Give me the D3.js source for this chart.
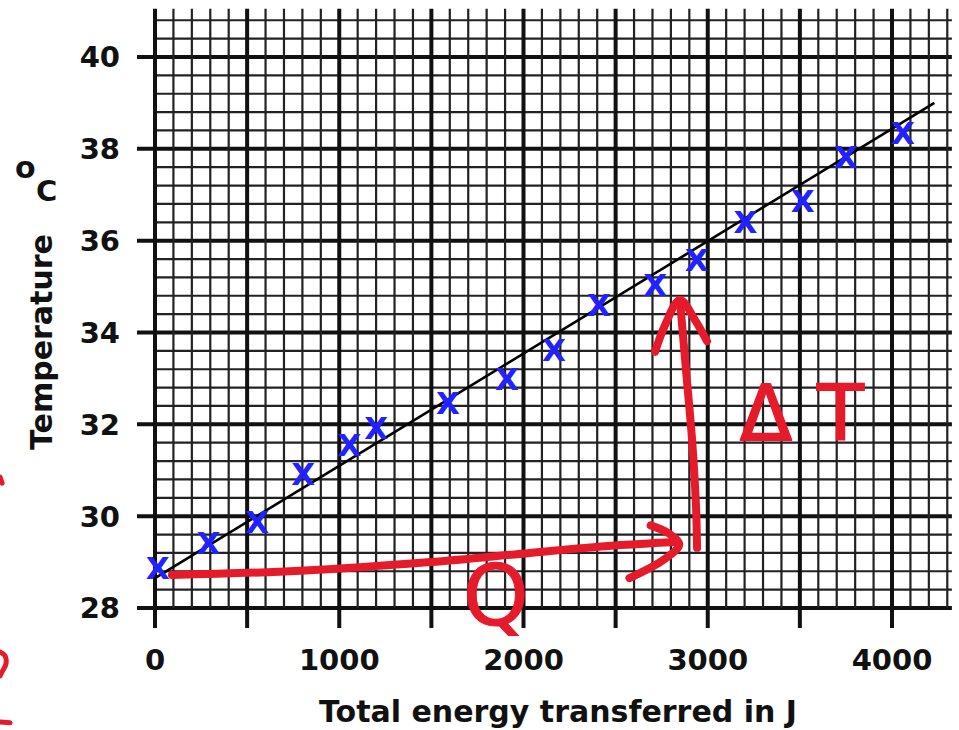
<!DOCTYPE html>
<html lang="en">
<head>
  <meta charset="UTF-8">
  <script src="https://d3js.org/d3.v7.min.js"></script>
  <style>
    body { margin: 0; background: #fff; }
    text { font-family: "DejaVu Sans", Verdana, sans-serif; }
  </style>
</head>
<body>
  <script>
    // measured points (energy in J, temperature in oC)
    const energy = [15, 290, 555, 805, 1055, 1200, 1590, 1910, 2165, 2410, 2715, 2940, 3205, 3515, 3750, 4060];
    const temperature = [28.87, 29.42, 29.88, 30.92, 31.55, 31.92, 32.47, 33.0, 33.62, 34.6, 35.04, 35.58, 36.4, 36.86, 37.83, 38.35];

    // line of best fit
    const fitEnergy = [0, 4230];
    const fitTemp = [28.65, 39.0];

    const xTicks = [0, 1000, 2000, 3000, 4000];
    const yTicks = [28, 30, 32, 34, 36, 38, 40];

    // red hand annotations, in data units
    const qShaft = [[92, 28.72], [787, 28.81], [1493, 29.0], [2035, 29.2], [2524, 29.37], [2828, 29.44]];
    const qHead = [[2690, 29.8], [2790, 29.62], [2845, 29.38], [2760, 29.05], [2575, 28.65]];
    const dtShaft = [[2942, 29.31], [2936, 30.24], [2915, 31.66], [2882, 33.18], [2849, 34.71]];
    const dtHead = [[2714, 33.58], [2768, 34.16], [2849, 34.71], [2931, 34.27], [2996, 33.81]];
    const edgeMarks = [
      [[-841, 30.85], [-830, 30.72]],
      [[-841, 27.04], [-814, 26.96], [-809, 26.78], [-830, 26.61], [-841, 26.52]],
      [[-841, 25.52], [-787, 25.5]]
    ];

    const width = 959, height = 730;

    const svg = d3.select("body").append("svg")
      .attr("width", width)
      .attr("height", height);

    const x = d3.scaleLinear().domain([0, 4000]).range([155, 892]);
    const y = d3.scaleLinear().domain([28, 40]).range([608, 57]);

    // graph paper grid
    const xMinor = d3.range(0, 4301, 100);
    const yMinor = d3.range(28, 40.81, 0.4).map(v => +v.toFixed(1));
    const isMajorX = v => v % 500 === 0;
    const isMajorY = v => Math.abs(v % 2) < 1e-6;

    const grid = svg.append("g");
    grid.selectAll("line.h")
      .data(yMinor)
      .join("line")
      .attr("x1", d => isMajorY(d) ? x(0) - 18 : x(0))
      .attr("x2", x(4325))
      .attr("y1", d => y(d))
      .attr("y2", d => y(d))
      .attr("stroke", d => isMajorY(d) ? "#111" : "#222")
      .attr("stroke-width", d => isMajorY(d) ? 4 : 2.2);

    grid.selectAll("line.v")
      .data(xMinor)
      .join("line")
      .attr("x1", d => x(d))
      .attr("x2", d => x(d))
      .attr("y1", d => isMajorX(d) ? y(28) + 20 : y(28))
      .attr("y2", y(41.05))
      .attr("stroke", d => isMajorX(d) ? "#111" : "#222")
      .attr("stroke-width", d => isMajorX(d) ? 4 : 2.2);

    // tick labels
    svg.append("g").selectAll("text")
      .data(xTicks)
      .join("text")
      .attr("x", d => x(d))
      .attr("y", 670)
      .attr("text-anchor", "middle")
      .attr("font-size", 29)
      .attr("font-weight", "bold")
      .attr("fill", "#111")
      .text(d => d);

    svg.append("g").selectAll("text")
      .data(yTicks)
      .join("text")
      .attr("x", 120)
      .attr("y", d => y(d))
      .attr("dy", "0.36em")
      .attr("text-anchor", "end")
      .attr("font-size", 29)
      .attr("font-weight", "bold")
      .attr("fill", "#111")
      .text(d => d);

    // axis titles
    svg.append("text")
      .attr("x", 558)
      .attr("y", 722)
      .attr("text-anchor", "middle")
      .attr("font-size", 30)
      .attr("font-weight", "bold")
      .attr("fill", "#111")
      .text("Total energy transferred in J");

    svg.append("text")
      .attr("transform", "translate(52,342) rotate(-90)")
      .attr("text-anchor", "middle")
      .attr("font-size", 30)
      .attr("font-weight", "bold")
      .attr("fill", "#111")
      .text("Temperature");

    svg.append("text")
      .attr("x", 15)
      .attr("y", 178)
      .attr("font-size", 30)
      .attr("font-weight", "bold")
      .attr("fill", "#111")
      .text("o");
    svg.append("text")
      .attr("x", 36)
      .attr("y", 201)
      .attr("font-size", 29)
      .attr("font-weight", "bold")
      .attr("fill", "#111")
      .text("C");

    // best fit line
    svg.append("line")
      .attr("x1", x(fitEnergy[0]))
      .attr("y1", y(fitTemp[0]))
      .attr("x2", x(fitEnergy[1]))
      .attr("y2", y(fitTemp[1]))
      .attr("stroke", "#000")
      .attr("stroke-width", 2.6);

    // data crosses
    svg.append("g").selectAll("text")
      .data(energy.map((e, i) => ({ e, t: temperature[i] })))
      .join("text")
      .attr("x", d => x(d.e))
      .attr("y", d => y(d.t))
      .attr("dy", "0.36em")
      .attr("text-anchor", "middle")
      .attr("font-size", 31)
      .attr("font-weight", "bold")
      .attr("fill", "#2222ff")
      .text("X");

    // red annotations
    const red = "#e51b2b";
    const pen = d3.line().x(d => x(d[0])).y(d => y(d[1])).curve(d3.curveCatmullRom);
    const ann = svg.append("g")
      .attr("fill", "none")
      .attr("stroke", red)
      .attr("stroke-width", 8)
      .attr("stroke-linecap", "round")
      .attr("stroke-linejoin", "round");

    [qShaft, qHead, dtShaft, dtHead].forEach(p => ann.append("path").attr("d", pen(p)));
    edgeMarks.forEach(p => ann.append("path").attr("d", pen(p)).attr("stroke-width", 5));

    svg.append("text")
      .attr("x", x(1850))
      .attr("y", y(27.62))
      .attr("text-anchor", "middle")
      .attr("font-size", 84)
      .attr("fill", red)
      .attr("stroke", red)
      .attr("stroke-width", 1)
      .text("Q");

    svg.append("text")
      .attr("x", x(3175))
      .attr("y", y(31.66))
      .attr("font-size", 76)
      .attr("fill", red)
      .attr("stroke", red)
      .attr("stroke-width", 2)
      .attr("stroke-linejoin", "round")
      .text("Δ");

    svg.append("text")
      .attr("x", x(3720))
      .attr("y", y(31.66))
      .attr("text-anchor", "middle")
      .attr("font-size", 76)
      .attr("fill", red)
      .attr("stroke", red)
      .attr("stroke-width", 2)
      .text("T");
  </script>
</body>
</html>
